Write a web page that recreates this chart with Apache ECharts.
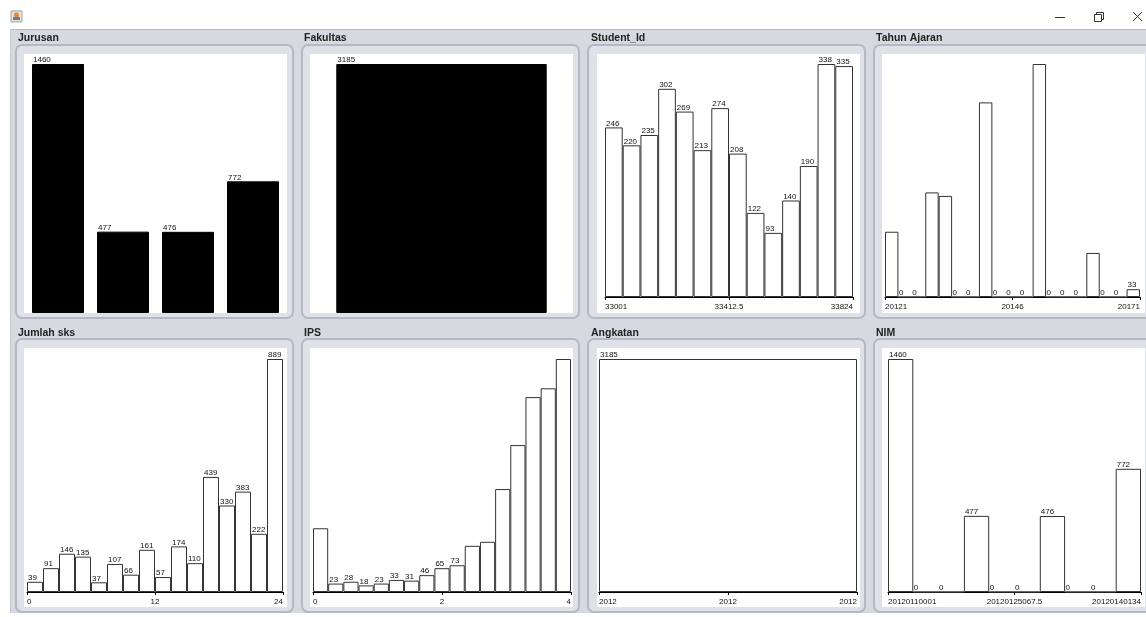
<!DOCTYPE html>
<html>
<head>
<meta charset="utf-8">
<script src="https://cdn.jsdelivr.net/npm/echarts@6/dist/echarts.min.js"></script>
<style>
  html, body { margin: 0; padding: 0; background: #fff; }
  #myChart { width: 1146px; height: 617px; }
</style>
</head>
<body>
<div id="myChart"></div>
<script>
let myChart = echarts.init(document.getElementById('myChart'));

// histogram counts
const jurusanCounts = [1460, 477, 476, 772];
const fakultasCounts = [3185];
const studentIdCounts = [246, 220, 235, 302, 269, 213, 274, 208, 122, 93, 140, 190, 338, 335];
const studentIdTicks = ['33001', '33412.5', '33824'];
const tahunAjaranCounts = [277, 0, 0, 444, 429, 0, 0, 826, 0, 0, 0, 989, 0, 0, 0, 187, 0, 0, 33];
const tahunAjaranTicks = ['20121', '20146', '20171'];
const jumlahSksCounts = [39, 91, 146, 135, 37, 107, 66, 161, 57, 174, 110, 439, 330, 383, 222, 889];
const jumlahSksTicks = ['0', '12', '24'];
const ipsCounts = [174, 23, 28, 18, 23, 33, 31, 46, 65, 73, 126, 137, 281, 401, 532, 556, 636];
const ipsTicks = ['0', '2', '4'];
const angkatanCounts = [3185];
const angkatanTicks = ['2012', '2012', '2012'];
const nimCounts = [1460, 0, 0, 477, 0, 0, 476, 0, 0, 772];
const nimTicks = ['20120110001', '20120125067.5', '20120140134'];

// panel layout: column / row index, plot box, label rule
const panels = [
  { title: 'Jurusan', col: 0, row: 0, data: jurusanCounts, ticks: null, nominal: true, box: [25.5, 64, 260, 249], digits: 9 },
  { title: 'Fakultas', col: 1, row: 0, data: fakultasCounts, ticks: null, nominal: true, box: [310, 64, 263, 249], digits: 9 },
  { title: 'Student_Id', col: 2, row: 0, data: studentIdCounts, ticks: studentIdTicks, box: [605, 64, 248, 233], digits: 3 },
  { title: 'Tahun Ajaran', col: 3, row: 0, data: tahunAjaranCounts, ticks: tahunAjaranTicks, box: [885, 64, 255, 233], digits: 2 },
  { title: 'Jumlah sks', col: 0, row: 1, data: jumlahSksCounts, ticks: jumlahSksTicks, box: [27, 359, 256, 233], digits: 3 },
  { title: 'IPS', col: 1, row: 1, data: ipsCounts, ticks: ipsTicks, box: [313, 359, 258, 233], digits: 2 },
  { title: 'Angkatan', col: 2, row: 1, data: angkatanCounts, ticks: angkatanTicks, box: [599, 359, 258, 233], digits: 4 },
  { title: 'NIM', col: 3, row: 1, data: nimCounts, ticks: nimTicks, box: [888, 359, 253, 233], digits: 4 },
];

const frameLeft = [16, 302, 588, 874];
const whiteLeft = [24, 310, 597, 882];
const titleLeft = [18, 304, 591, 876];
const frameTop = [45, 339];
const whiteTop = [54, 348];
const titleY = [38, 333];

const labelFont = 'Liberation Sans, Arial, sans-serif';

// window decoration drawn with graphic elements
let graphics = [
  { type: 'rect', shape: { x: 10, y: 29, width: 1136, height: 584 }, style: { fill: '#d6d9e0' }, z: -10 },
  { type: 'line', shape: { x1: 10, y1: 29.5, x2: 1146, y2: 29.5 }, style: { stroke: '#b6bac3', lineWidth: 1 }, z: -9 },
  { type: 'line', shape: { x1: 10.5, y1: 29, x2: 10.5, y2: 613 }, style: { stroke: '#c4c8d0', lineWidth: 1 }, z: -9 },
  // java icon
  { type: 'rect', shape: { x: 11, y: 11, width: 11, height: 11 }, style: { fill: '#e9e2cf', stroke: '#9aa3b5', lineWidth: 1 }, z: -9 },
  { type: 'circle', shape: { cx: 16.5, cy: 15, r: 2.5 }, style: { fill: '#e0843a' }, z: -8 },
  { type: 'rect', shape: { x: 13, y: 17, width: 7, height: 3 }, style: { fill: '#5b7fb8' }, z: -8 },
  // window buttons
  { type: 'line', shape: { x1: 1055, y1: 17.5, x2: 1065, y2: 17.5 }, style: { stroke: '#333', lineWidth: 1 } },
  { type: 'rect', shape: { x: 1094.5, y: 14.5, width: 7, height: 7 }, style: { fill: '#fff', stroke: '#333', lineWidth: 1 } },
  { type: 'polyline', shape: { points: [[1096.5, 14.5], [1096.5, 12.5], [1103.5, 12.5], [1103.5, 19.5], [1101.5, 19.5]] }, style: { fill: null, stroke: '#333', lineWidth: 1 } },
  { type: 'line', shape: { x1: 1133, y1: 12, x2: 1142, y2: 21 }, style: { stroke: '#333', lineWidth: 1 } },
  { type: 'line', shape: { x1: 1142, y1: 12, x2: 1133, y2: 21 }, style: { stroke: '#333', lineWidth: 1 } },
];

panels.forEach(function (p) {
  graphics.push({
    type: 'rect',
    shape: { x: frameLeft[p.col], y: frameTop[p.row], width: 277, height: 273, r: 6 },
    style: { fill: '#dee1e7', stroke: '#b3b8c2', lineWidth: 2 },
    z: -7,
  });
  graphics.push({
    type: 'rect',
    shape: { x: whiteLeft[p.col], y: whiteTop[p.row], width: 263, height: 259 },
    style: { fill: '#ffffff' },
    z: -6,
  });
  graphics.push({
    type: 'text',
    x: titleLeft[p.col],
    y: titleY[p.row],
    style: {
      text: p.title,
      font: 'bold 10.5px ' + labelFont,
      fill: '#222',
      verticalAlign: 'middle',
    },
    z: -5,
  });
});

let grids = [];
let xAxes = [];
let yAxes = [];
let series = [];

panels.forEach(function (p, i) {
  grids.push({ left: p.box[0], top: p.box[1], width: p.box[2], height: p.box[3] });
  let catIndex = xAxes.length;
  xAxes.push({
    type: 'category',
    gridIndex: i,
    show: false,
    boundaryGap: true,
    data: p.data.map(function (v, k) { return k; }),
  });
  if (p.ticks) {
    let ticks = p.ticks;
    xAxes.push({
      type: 'value',
      gridIndex: i,
      position: 'bottom',
      min: 0,
      max: 2,
      interval: 1,
      splitLine: { show: false },
      axisLine: { show: true, onZero: false, lineStyle: { color: '#000', width: 1 } },
      axisTick: { show: true, length: 3, lineStyle: { color: '#000', width: 1 } },
      axisLabel: {
        show: true,
        margin: 6,
        fontSize: 8,
        fontFamily: labelFont,
        color: '#111',
        showMinLabel: true,
        showMaxLabel: true,
        alignMinLabel: 'left',
        alignMaxLabel: 'right',
        formatter: function (v) { return ticks[Math.round(v)]; },
      },
    });
  }
  yAxes.push({ type: 'value', gridIndex: i, show: false, min: 0, max: 'dataMax' });
  let digits = p.digits;
  series.push({
    type: 'bar',
    xAxisIndex: catIndex,
    yAxisIndex: i,
    data: p.data,
    barWidth: p.nominal ? '80%' : '100%',
    animation: false,
    itemStyle: {
      color: p.nominal ? '#000' : '#fff',
      borderColor: p.nominal ? '#000' : '#333',
      borderWidth: 1,
    },
    label: {
      show: true,
      position: [1, 0],
      align: 'left',
      verticalAlign: 'bottom',
      fontSize: 8,
      lineHeight: 8,
      fontFamily: labelFont,
      color: '#111',
      formatter: function (q) {
        let s = String(q.value);
        return s.length <= digits ? s : '';
      },
    },
  });
});

let myChartOption = {
  backgroundColor: '#ffffff',
  animation: false,
  graphic: graphics,
  grid: grids,
  xAxis: xAxes,
  yAxis: yAxes,
  series: series,
};

myChart.setOption(myChartOption);
</script>
</body>
</html>
